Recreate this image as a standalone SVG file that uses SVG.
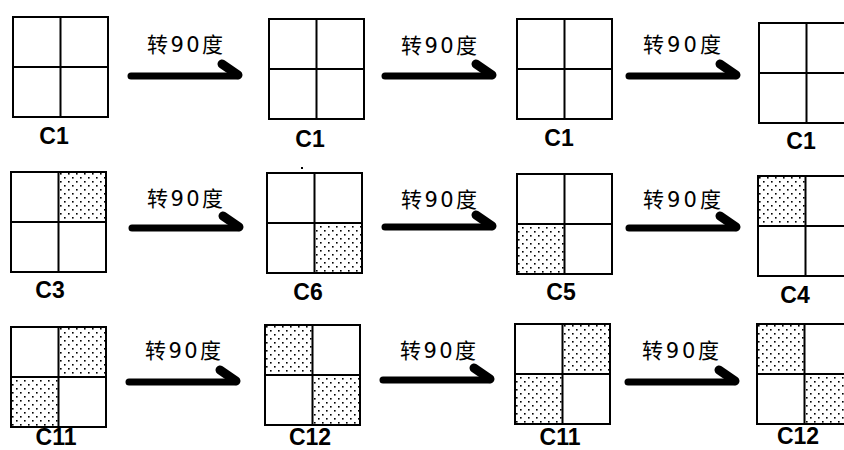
<svg xmlns="http://www.w3.org/2000/svg" xmlns:xlink="http://www.w3.org/1999/xlink" width="844" height="450" viewBox="0 0 844 450">
<style>
.frame{fill:none;stroke:#000;stroke-width:2}
.dot{fill:url(#dots)}
.lbl{font-family:"Liberation Sans",Arial,sans-serif;font-weight:bold;font-size:23px;fill:#000;text-anchor:middle}
.rot{font-family:"Noto Sans CJK SC","Noto Sans",sans-serif;font-size:21px;fill:#000}
.num{font-family:"DejaVu Sans","Noto Sans",sans-serif;font-size:21px}
.shaft{stroke:#000;stroke-width:7;stroke-linecap:round;fill:none}
.hook{stroke:#000;stroke-width:9;stroke-linecap:round;fill:none}
</style>
<defs>
<pattern id="dots" width="8" height="8" patternUnits="userSpaceOnUse">
<rect x="1" y="1" width="1.6" height="1.6" fill="#000"/>
<rect x="5" y="5" width="1.6" height="1.6" fill="#000"/>
</pattern>
<g id="grid">
<rect class="frame" x="0" y="0" width="95" height="100"/>
<path class="frame" d="M47.5,0V100M0,50H95"/>
</g>
<rect id="tl" class="dot" x="0" y="0" width="47.5" height="50"/>
<rect id="tr" class="dot" x="47.5" y="0" width="47.5" height="50"/>
<rect id="bl" class="dot" x="0" y="50" width="47.5" height="50"/>
<rect id="br" class="dot" x="47.5" y="50" width="47.5" height="50"/>
<g id="arr">
<path class="shaft" d="M3,0H108"/>
<path class="hook" d="M94,-12L110,-1"/>
</g>
</defs>
<rect width="844" height="450" fill="#fff"/>

<g id="connectors">
<use xlink:href="#arr" x="128" y="76"/>
<use xlink:href="#arr" x="382" y="76"/>
<use xlink:href="#arr" x="626" y="76"/>
<use xlink:href="#arr" x="129" y="228"/>
<use xlink:href="#arr" x="382" y="227"/>
<use xlink:href="#arr" x="626" y="228"/>
<use xlink:href="#arr" x="126" y="382"/>
<use xlink:href="#arr" x="380" y="380"/>
<use xlink:href="#arr" x="625" y="382"/>
<text class="rot" x="147" y="52" textLength="76" lengthAdjust="spacing">转<tspan class="num">90</tspan>度</text>
<text class="rot" x="401" y="53" textLength="76" lengthAdjust="spacing">转<tspan class="num">90</tspan>度</text>
<text class="rot" x="643" y="52" textLength="78" lengthAdjust="spacing">转<tspan class="num">90</tspan>度</text>
<text class="rot" x="147" y="206" textLength="76" lengthAdjust="spacing">转<tspan class="num">90</tspan>度</text>
<text class="rot" x="401" y="207" textLength="76" lengthAdjust="spacing">转<tspan class="num">90</tspan>度</text>
<text class="rot" x="643" y="207" textLength="78" lengthAdjust="spacing">转<tspan class="num">90</tspan>度</text>
<text class="rot" x="145" y="358" textLength="76" lengthAdjust="spacing">转<tspan class="num">90</tspan>度</text>
<text class="rot" x="400" y="358" textLength="76" lengthAdjust="spacing">转<tspan class="num">90</tspan>度</text>
<text class="rot" x="642" y="358" textLength="77" lengthAdjust="spacing">转<tspan class="num">90</tspan>度</text>
</g>

<g id="r1c1"><g transform="translate(13,17)"><use xlink:href="#grid"/></g><text class="lbl" x="54" y="144">C1</text></g>
<g id="r1c2"><g transform="translate(269,19)"><use xlink:href="#grid"/></g><text class="lbl" x="310" y="147">C1</text></g>
<g id="r1c3"><g transform="translate(517,19)"><use xlink:href="#grid"/></g><text class="lbl" x="559" y="146">C1</text></g>
<g id="r1c4"><g transform="translate(759,23)"><use xlink:href="#grid"/></g><text class="lbl" x="801" y="149">C1</text></g>

<g id="r2c1"><g transform="translate(11,172)"><use xlink:href="#tr"/><use xlink:href="#grid"/></g><text class="lbl" x="50" y="298">C3</text></g>
<g id="r2c2"><g transform="translate(267,173)"><use xlink:href="#br"/><use xlink:href="#grid"/></g><rect x="301" y="167" width="2" height="2" fill="#000"/><text class="lbl" x="308" y="300">C6</text></g>
<g id="r2c3"><g transform="translate(517,174)"><use xlink:href="#bl"/><use xlink:href="#grid"/></g><text class="lbl" x="561" y="300">C5</text></g>
<g id="r2c4"><g transform="translate(758,176)"><use xlink:href="#tl"/><use xlink:href="#grid"/></g><text class="lbl" x="795" y="303">C4</text></g>

<g id="r3c1"><g transform="translate(11,327)"><use xlink:href="#tr"/><use xlink:href="#bl"/><use xlink:href="#grid"/></g><text class="lbl" x="56" y="445">C11</text></g>
<g id="r3c2"><g transform="translate(265,325)"><use xlink:href="#tl"/><use xlink:href="#br"/><use xlink:href="#grid"/></g><text class="lbl" x="310" y="445">C12</text></g>
<g id="r3c3"><g transform="translate(515,324)"><use xlink:href="#tr"/><use xlink:href="#bl"/><use xlink:href="#grid"/></g><text class="lbl" x="560" y="445">C11</text></g>
<g id="r3c4"><g transform="translate(757,324)"><use xlink:href="#tl"/><use xlink:href="#br"/><use xlink:href="#grid"/></g><text class="lbl" x="798" y="444">C12</text></g>
</svg>
